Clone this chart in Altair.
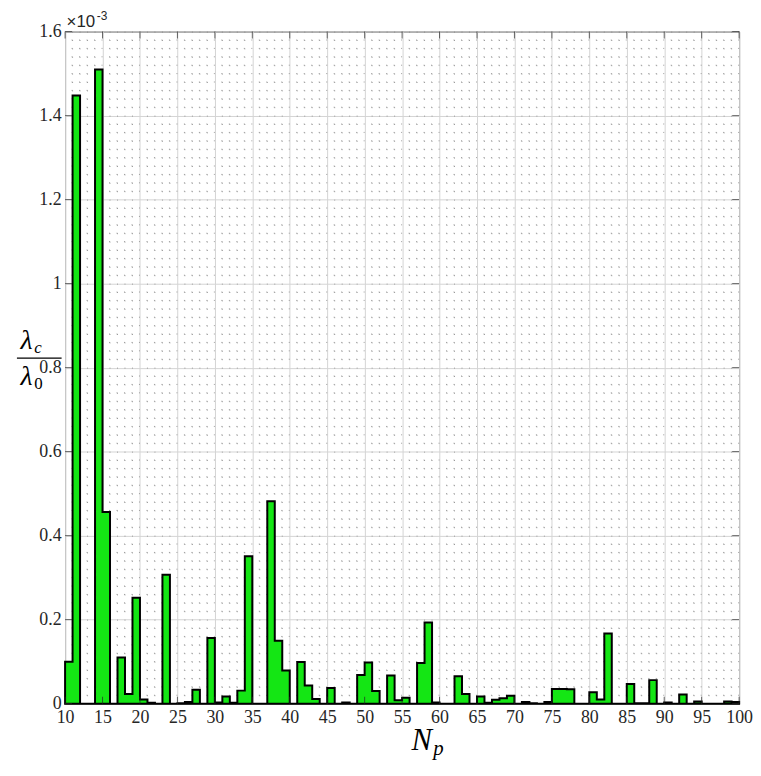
import altair as alt
import pandas as pd

# N_p values (bar left edges) and lambda_c/lambda_0 values (x 1e-3)
Np = list(range(10, 100))
ratio = [
    0.100, 1.448, 0.000, 0.000, 1.510, 0.456, 0.000, 0.110, 0.023, 0.252,   # 10-19
    0.010, 0.002, 0.000, 0.307, 0.000, 0.001, 0.004, 0.033, 0.000, 0.156,   # 20-29
    0.003, 0.017, 0.002, 0.031, 0.351, 0.000, 0.000, 0.482, 0.150, 0.079,   # 30-39
    0.000, 0.099, 0.043, 0.011, 0.000, 0.037, 0.000, 0.003, 0.000, 0.068,   # 40-49
    0.098, 0.030, 0.000, 0.067, 0.008, 0.014, 0.000, 0.097, 0.193, 0.003,   # 50-59
    0.000, 0.000, 0.065, 0.023, 0.000, 0.017, 0.002, 0.009, 0.013, 0.019,   # 60-69
    0.000, 0.004, 0.001, 0.000, 0.004, 0.035, 0.035, 0.034, 0.000, 0.000,   # 70-79
    0.027, 0.010, 0.167, 0.000, 0.000, 0.047, 0.001, 0.001, 0.056, 0.000,   # 80-89
    0.003, 0.000, 0.022, 0.000, 0.005, 0.000, 0.000, 0.000, 0.005, 0.004,   # 90-99
]

x_ticks = list(range(10, 101, 5))
y_ticks = [0, 0.2, 0.4, 0.6, 0.8, 1.0, 1.2, 1.4, 1.6]
x_minor = [v for v in range(10, 101) if v % 5 != 0]
y_minor = [round(i * 0.02, 2) for i in range(1, 80) if i % 10 != 0]

W, H = 679, 677
SERIF = "Liberation Serif"
INK = "#262626"
XU = W / 90.0          # pixels per N_p unit
YU = H / 80.0          # pixels per 0.02

xs = alt.Scale(domain=[10, 100], nice=False, zero=False)
ys = alt.Scale(domain=[0, 1.6], nice=False)

axis_common = dict(title=None, grid=True, gridColor="#d4d4d4", gridWidth=1,
                   labelFont=SERIF, labelFontSize=18, labelColor=INK,
                   tickSize=0, domain=False, labelOverlap=False, labelFlush=False)
XAX = alt.Axis(values=x_ticks, labelPadding=5, format="d", **axis_common)
YAX = alt.Axis(values=y_ticks, labelPadding=4, format="~g", **axis_common)

def X(field):
    return alt.X(field, scale=xs, axis=XAX)

def Y(field):
    return alt.Y(field, scale=ys, axis=YAX)

step_df = pd.DataFrame({"Np": Np + [100], "r": ratio + [ratio[-1]]})

area = alt.Chart(step_df).mark_area(
    interpolate="step-after", fill="#14e614", stroke="black", strokeWidth=2
).encode(x=X("Np:Q"), y=Y("r:Q"))

vminor = alt.Chart(pd.DataFrame({"x": x_minor})).mark_rule(
    color="#808080", strokeDash=[1, YU - 1], strokeWidth=1, opacity=0.75
).encode(x=X("x:Q"))

hminor = alt.Chart(pd.DataFrame({"y": y_minor})).mark_rule(
    color="#808080", strokeDash=[1, XU - 1], strokeWidth=1, opacity=0.75
).encode(y=Y("y:Q"))

xt = pd.DataFrame({"x": x_ticks})
yt = pd.DataFrame({"y": y_ticks})
tick_bot = alt.Chart(xt).mark_tick(color=INK, thickness=1, size=7).encode(
    x=X("x:Q"), y=alt.value(H - 3.5))
tick_top = alt.Chart(xt).mark_tick(color=INK, thickness=1, size=7).encode(
    x=X("x:Q"), y=alt.value(3.5))
tick_left = alt.Chart(yt).mark_tick(color=INK, thickness=1, size=7, orient="horizontal").encode(
    y=Y("y:Q"), x=alt.value(3.5))
tick_right = alt.Chart(yt).mark_tick(color=INK, thickness=1, size=7, orient="horizontal").encode(
    y=Y("y:Q"), x=alt.value(W - 3.5))

one = pd.DataFrame({"t": [""]})

def label(txt, x, y, size, italic=True, font=SERIF, align="left", color="black"):
    return alt.Chart(one).mark_text(
        text=txt, font=font, fontSize=size, fontStyle="italic" if italic else "normal",
        color=color, align=align, baseline="alphabetic"
    ).encode(x=alt.value(x), y=alt.value(y))

# y label: lambda_c / lambda_0
lam_c = label("λ", -45, 320, 28)
sub_c = label("c", -31, 324, 17)
frac = alt.Chart(one).mark_rule(color="black", strokeWidth=1.2).encode(
    x=alt.value(-48.5), x2=alt.value(-3.5), y=alt.value(329))
lam_0 = label("λ", -45, 356, 28)
sub_0 = label("0", -31, 360, 17, italic=False)

# x label: N_p
n_lab = label("N", 349, 724, 31)
p_lab = label("p", 371, 729, 21)

# exponent
exp1 = label("×10", 1.5, -5, 17, italic=False, font="Liberation Sans", color=INK)
exp2 = label("-3", 32, -12, 12, italic=False, font="Liberation Sans", color=INK)

chart = alt.layer(
    vminor, hminor, area, tick_bot, tick_top, tick_left, tick_right,
    lam_c, sub_c, frac, lam_0, sub_0, n_lab, p_lab, exp1, exp2
).properties(
    width=W, height=H,
    autosize=alt.AutoSizeParams(type="none"),
    padding={"left": 57.5, "top": 21, "right": 14, "bottom": 54},
).configure_view(
    stroke=INK, strokeWidth=1
)

chart.save("out.html", embed_options={"renderer": "svg", "actions": False})
